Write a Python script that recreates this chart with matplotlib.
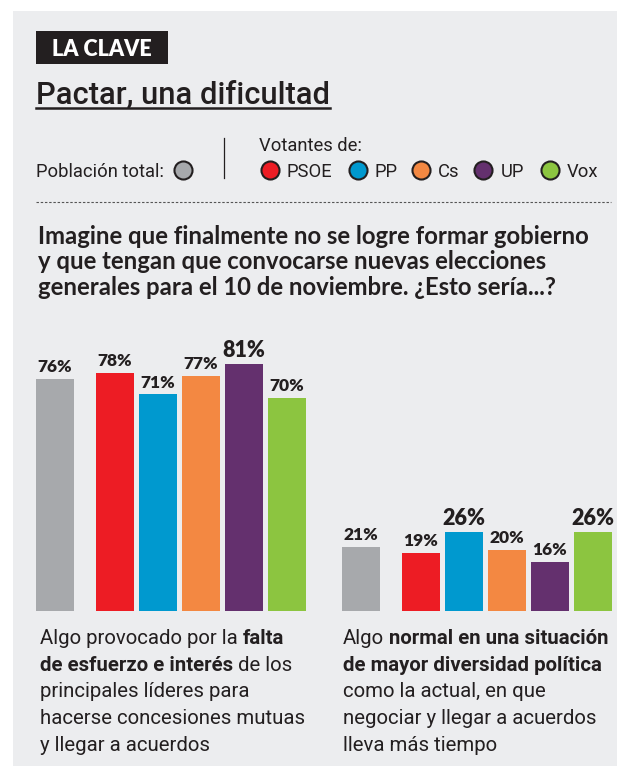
import matplotlib
matplotlib.use("Agg")
import matplotlib.pyplot as plt
from matplotlib import font_manager
from matplotlib.lines import Line2D
from matplotlib.patches import Rectangle

# Data
groups = ["falta", "normal"]
total_values = [76, 21]                     # Población total
parties = ["PSOE", "PP", "Cs", "UP", "Vox"]
party_values = [[78, 71, 77, 81, 70],
                [19, 26, 20, 16, 26]]
value_labels_total = ["76%", "21%"]
value_labels_party = [["78%", "71%", "77%", "81%", "70%"],
                      ["19%", "26%", "20%", "16%", "26%"]]

gray = "#A7A9AC"
party_colors = ["#ED1C24", "#0099CF", "#F38842", "#64306E", "#8CC540"]
bg = "#ECEDEF"
ink = "#231F20"

question = ["Imagine que finalmente no se logre formar gobierno",
            "y que tengan que convocarse nuevas elecciones",
            "generales para el 10 de noviembre. ¿Esto sería...?"]

# (text, bold) chunks per line
text_left = [[("Algo provocado por la", False), ("falta", True)],
             [("de esfuerzo e interés", True), ("de los", False)],
             [("principales líderes para", False)],
             [("hacerse concesiones mutuas", False)],
             [("y llegar a acuerdos", False)]]
text_right = [[("Algo", False), ("normal en una situación", True)],
              [("de mayor diversidad política", True)],
              [("como la actual, en que", False)],
              [("negociar y llegar a acuerdos", False)],
              [("lleva más tiempo", False)]]


def pick(*names):
    for n in names:
        try:
            font_manager.findfont(font_manager.FontProperties(family=n), fallback_to_default=False)
            return n
        except Exception:
            continue
    return "DejaVu Sans"


narrow = pick("Liberation Sans Narrow", "Roboto", "Liberation Sans")
boldf = pick("Lato", "Roboto", "Liberation Sans")

W, H = 617, 766
fig = plt.figure(figsize=(W / 100, H / 100), dpi=100)
fig.patch.set_facecolor("white")
renderer = fig.canvas.get_renderer()


def fx(x):
    return x / W


def fy(y):
    return 1 - y / H


def put(x, y, s, **kw):
    kw.setdefault("va", "baseline")
    kw.setdefault("color", ink)
    return fig.text(fx(x), fy(y), s, **kw)


def width_of(s, size, family, weight="normal"):
    t = fig.text(0, 0, s, fontsize=size, family=family, fontweight=weight)
    w = t.get_window_extent(renderer).width
    t.remove()
    return w


def fit(s, target, family, weight="normal"):
    return 20 * target / width_of(s, 20, family, weight)


# gray panel
fig.add_artist(Rectangle((fx(13), 0), 1.01 - fx(13), fy(11), transform=fig.transFigure,
                         facecolor=bg, edgecolor="none", zorder=0))

# LA CLAVE tag
fig.add_artist(Rectangle((fx(36), fy(64)), fx(168) - fx(36), fy(31) - fy(64),
                         transform=fig.transFigure, facecolor=ink, edgecolor="none"))
tag_size = fit("LA CLAVE", 100, boldf, "heavy")
put(102, 56, "LA CLAVE", color="white", fontsize=tag_size, family=boldf,
    fontweight="heavy", ha="center")

# title + underline
title_size = fit("Pactar, una dificultad", 294, narrow, "medium")
t = put(36, 103, "Pactar, una dificultad", fontsize=title_size, family=narrow,
        fontweight="medium")
tw = t.get_window_extent(renderer).width
fig.add_artist(Line2D([fx(36), fx(36 + tw)], [fy(108), fy(108)], transform=fig.transFigure,
                      color=ink, lw=1.8))

# legend
leg_size = fit("Población total:", 127, narrow)
put(36, 177, "Población total:", fontsize=leg_size, family=narrow)
fig.add_artist(Line2D([fx(183)], [fy(170)], transform=fig.transFigure, marker="o",
                      markersize=13, markerfacecolor=gray, markeredgecolor=ink, markeredgewidth=1.5))
fig.add_artist(Line2D([fx(224), fx(224)], [fy(138), fy(178)], transform=fig.transFigure,
                      color=ink, lw=0.9))
put(259, 151, "Votantes de:", fontsize=leg_size, family=narrow)
circle_x = [270, 358, 421, 483, 550]
label_x = [287, 375, 438, 501, 567]
for name, c, cx, lx in zip(parties, party_colors, circle_x, label_x):
    fig.add_artist(Line2D([fx(cx)], [fy(170)], transform=fig.transFigure, marker="o",
                          markersize=13, markerfacecolor=c, markeredgecolor=ink, markeredgewidth=1.5))
    put(lx, 177, name, fontsize=leg_size, family=narrow)

# dotted separator
fig.add_artist(Line2D([fx(36), fx(611)], [fy(202), fy(202)], transform=fig.transFigure,
                      color="#555555", lw=0.8, linestyle=(0, (2.2, 1.6))))

# question
q_size = fit(question[0], 550, boldf, "bold")
for i, line in enumerate(question):
    put(38, 244 + i * 25.5, line, fontsize=q_size, family=boldf, fontweight="bold")

# bars
unit = 43.0
bar_w = 38 / unit
first_party = 60 / unit
group_off = 306 / unit
x0_px = 55
ax = fig.add_axes([0, 1 - 611 / H, 1, 305 / H])
ax.set_xlim(-x0_px / unit, (W - x0_px) / unit)
ax.set_ylim(0, 100)
ax.axis("off")

for g in range(len(groups)):
    xs = [g * group_off] + [g * group_off + first_party + i for i in range(len(parties))]
    vals = [total_values[g]] + party_values[g]
    labs = [value_labels_total[g]] + value_labels_party[g]
    cols = [gray] + party_colors
    ax.bar(xs, vals, width=bar_w, color=cols, linewidth=0)
    top = max(vals)
    for x, v, lab in zip(xs, vals, labs):
        big = v == top
        ax.annotate(lab, (x, v), xytext=(0, 5), textcoords="offset points",
                    ha="center", va="baseline", fontsize=15.5 if big else 12.5,
                    family=boldf, fontweight="heavy", color=ink)

# bottom texts
body_size = fit("hacerse concesiones mutuas", 265, narrow)
space = width_of("a a", body_size, narrow) - width_of("aa", body_size, narrow)


def rich(x, y, parts):
    for k, (s, b) in enumerate(parts):
        if k > 0:
            x += space
        tt = put(x, y, s, fontsize=body_size, family=narrow,
                 fontweight="bold" if b else "normal")
        x += tt.get_window_extent(renderer).width


for i, parts in enumerate(text_left):
    rich(40, 644 + i * 26.7, parts)
for i, parts in enumerate(text_right):
    rich(343, 644 + i * 26.7, parts)

fig.savefig("out.png", dpi=100)
